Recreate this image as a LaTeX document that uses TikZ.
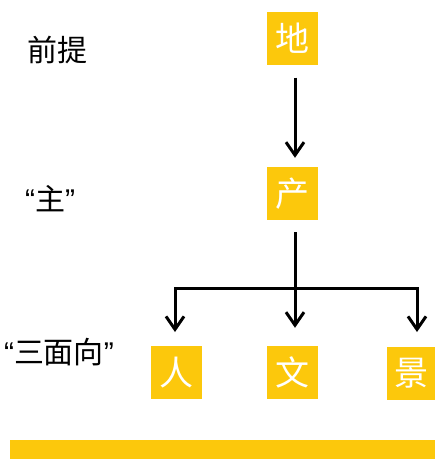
\documentclass[tikz,border=0pt]{standalone}
\usepackage{fontspec}
\setmainfont{Liberation Sans}
\newfontfamily\cjk{Noto Sans CJK SC}
\newfontfamily\lat{Liberation Sans}
\usetikzlibrary{arrows.meta}
\definecolor{ylw}{RGB}{252,200,12}
\begin{document}
\begin{tikzpicture}[x=1pt,y=-1pt,
  box/.style={fill=ylw, inner sep=0pt, minimum width=51pt, minimum height=53pt,
    text=white, font=\cjk\fontsize{34}{34}\selectfont},
  lbl/.style={inner sep=0pt, text=black, font=\cjk\fontsize{30}{30}\selectfont},
  conn/.style={line width=3pt, draw=black},
  arr/.style={conn, -{Straight Barb[length=13pt,width=18pt,line width=3pt]}}]
\useasboundingbox (0,0) rectangle (435,459);
\node[box] (di) at (292.5,38) {地};
\node[box] (chan) at (292.5,193.5) {产};
\node[box] (ren) at (176.5,372.5) {人};
\node[box] (wen) at (292.5,372.5) {文};
\node[box, minimum width=48pt] (jing) at (411,373.5) {景};
\node[lbl] (l1) at (57.5,50) {前提};
\node[lbl] (l2) at (50,199) {{\lat “}主{\lat ”}};
\node[lbl] (l3) at (59,352) {{\lat “}三面向{\lat ”}};
\coordinate (fork) at (295,288);
\coordinate (lt) at (175,332);
\coordinate (rt) at (417,332);
\draw[arr] ([xshift=2.5pt,yshift=-13pt]di.south) -- ([xshift=2.5pt,yshift=9pt]chan.north);
\draw[conn] ([xshift=2.5pt,yshift=-12pt]chan.south) -- (fork);
\draw[arr] (fork) -- ([xshift=2.5pt,yshift=18pt]wen.north);
\draw[arr, line join=miter] (fork) -| (lt);
\draw[arr, line join=miter] (fork) -| (rt);
\node[fill=ylw, inner sep=0pt, minimum width=425pt, minimum height=19pt, anchor=north west] (bar) at (10,440) {};
\end{tikzpicture}
\end{document}
